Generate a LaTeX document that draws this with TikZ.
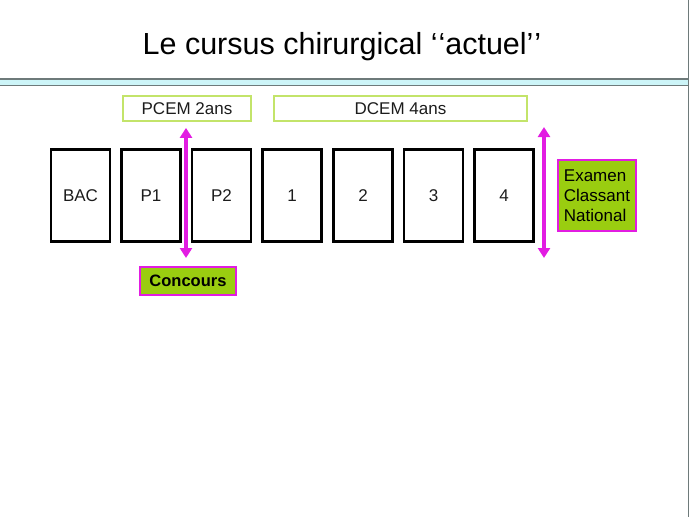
\documentclass[tikz,border=0pt]{standalone}
\usepackage{fontspec}
\setmainfont{Liberation Sans}
\usetikzlibrary{arrows.meta}
\definecolor{inkgrey}{HTML}{1C1C1C}
\definecolor{lime}{HTML}{C3E46A}
\definecolor{leaf}{HTML}{9ACD10}
\definecolor{fuchsia}{HTML}{E21CE2}
\definecolor{ice}{HTML}{CDF5F8}
\definecolor{edge}{HTML}{6E7A7A}

\begin{document}
\begin{tikzpicture}[
  x=1pt, y=-1pt,
  font=\fontsize{17}{20}\selectfont,
  year/.style={draw=black, fill=white, line width=2.4pt,
               minimum width=59pt, minimum height=92pt,
               inner sep=0pt, text=inkgrey},
  span/.style={draw=lime, fill=white, line width=1.8pt,
               minimum height=25pt, inner sep=0pt, text=inkgrey},
  exam/.style={draw=fuchsia, fill=leaf, line width=2pt,
               inner sep=0pt, align=center},
  pass/.style={{Triangle[length=10pt,width=12pt]}-{Triangle[length=10pt,width=12pt]},
               draw=fuchsia, fill=fuchsia, line width=3.6pt},
]
\useasboundingbox (0,0) rectangle (689,517);

% title band
\node (title) at (342,47) {\fontsize{30.5}{36}\selectfont Le cursus chirurgical
  {`}\kern1pt{`}actuel{'}\kern1pt{'}};
\draw[edge, fill=ice, line width=1.2pt] (-1,79) rectangle (690,85.5);
\draw[edge, line width=1pt] (688.5,0) -- (688.5,517);

% spans
\node[span, minimum width=128pt] (pcem) at (187,108.5) {PCEM 2ans};
\node[span, minimum width=253pt] (dcem) at (400.5,108.5) {DCEM 4ans};

% years
\node[year] (bac) at (80.5,195.5) {BAC};
\node[year] (p1)  at (151,195.5) {P1};
\node[year] (p2)  at (221.5,195.5) {P2};
\node[year] (d1)  at (292,195.5) {1};
\node[year] (d2)  at (363,195.5) {2};
\node[year] (d3)  at (433.5,195.5) {3};
\node[year] (d4)  at (504,195.5) {4};

% exams
\node[exam, minimum width=96pt, minimum height=28pt,
      font=\fontsize{16.5}{20}\selectfont\bfseries] (conc) at (188,281) {Concours};
\node[exam, align=left, minimum width=78pt, minimum height=71pt] (ecn) at (597,195.5)
  {Examen\\Classant\\National};

\coordinate (ecntop) at (544,127);
\coordinate (ecnbot) at (544,258);

\draw[pass] ([xshift=-1pt,yshift=-6pt]pcem.south) -- ([xshift=-2pt,yshift=8pt]conc.north);
\draw[pass] (ecntop) -- (ecnbot);
\end{tikzpicture}
\end{document}
